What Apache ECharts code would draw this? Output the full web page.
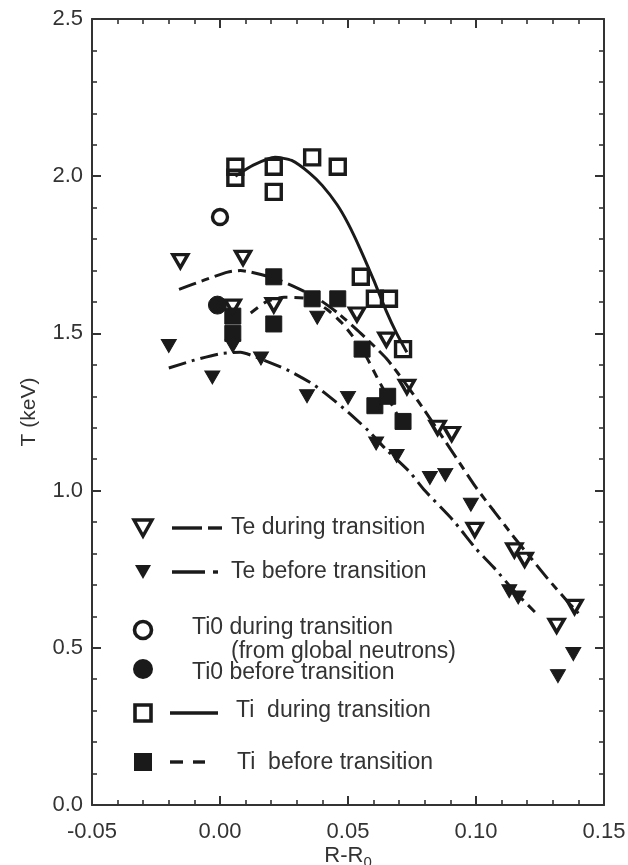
<!DOCTYPE html>
<html>
<head>
<meta charset="utf-8">
<script src="https://cdn.jsdelivr.net/npm/echarts@6/dist/echarts.min.js"></script>
<style>
  html, body { margin: 0; padding: 0; background: #fff; }
  #chart { width: 628px; height: 865px; }
</style>
</head>
<body>
<div id="chart"></div>
<script>
// Temperature profiles versus major-radius offset R-R0, [R-R0, T (keV)]

// Te during transition (open down-triangles) and its fit
const teDuring = [
  [-0.0155, 1.73], [0.005, 1.585], [0.009, 1.74], [0.021, 1.59], [0.0535, 1.56],
  [0.065, 1.48], [0.073, 1.33], [0.085, 1.20], [0.0905, 1.18], [0.0995, 0.875],
  [0.115, 0.81], [0.119, 0.78], [0.1385, 0.63], [0.1315, 0.57]
];
const teDuringFit = [
  [-0.016, 1.64], [-0.006, 1.67], [0.003, 1.695], [0.008, 1.70], [0.012, 1.695],
  [0.021, 1.676], [0.03, 1.645], [0.038, 1.612], [0.046, 1.565], [0.055, 1.50],
  [0.065, 1.42], [0.073, 1.335], [0.082, 1.23], [0.091, 1.12], [0.1, 1.01],
  [0.107, 0.935], [0.115, 0.85], [0.122, 0.78], [0.128, 0.72], [0.136, 0.645],
  [0.14, 0.61]
];

// Te before transition (filled down-triangles) and its fit
const teBefore = [
  [-0.02, 1.46], [-0.003, 1.36], [0.005, 1.46], [0.016, 1.42], [0.034, 1.30],
  [0.038, 1.55], [0.05, 1.295], [0.061, 1.15], [0.069, 1.11], [0.082, 1.04],
  [0.088, 1.05], [0.098, 0.955], [0.113, 0.68], [0.1165, 0.66], [0.138, 0.48],
  [0.132, 0.41]
];
const teBeforeFit = [
  [-0.02, 1.39], [-0.01, 1.415], [0.0, 1.435], [0.008, 1.44], [0.014, 1.425],
  [0.026, 1.385], [0.036, 1.34], [0.041, 1.31], [0.05, 1.25], [0.058, 1.19],
  [0.065, 1.13], [0.074, 1.06], [0.08, 1.0], [0.091, 0.906], [0.1, 0.815],
  [0.107, 0.755], [0.115, 0.68], [0.123, 0.614]
];

// Ti during transition (open squares) and its fit
const tiDuring = [
  [0.006, 2.03], [0.006, 1.995], [0.021, 2.03], [0.021, 1.95], [0.036, 2.06],
  [0.046, 2.03], [0.055, 1.68], [0.0605, 1.61], [0.066, 1.61], [0.0715, 1.45]
];
const tiDuringFit = [
  [0.006, 2.0], [0.013, 2.035], [0.0215, 2.06], [0.028, 2.05], [0.035, 2.01],
  [0.04, 1.97], [0.0457, 1.91], [0.05, 1.85], [0.0547, 1.77], [0.06, 1.67],
  [0.065, 1.57], [0.069, 1.50], [0.073, 1.44]
];

// Ti before transition (filled squares) and its fit
const tiBefore = [
  [0.005, 1.555], [0.005, 1.50], [0.021, 1.68], [0.021, 1.53], [0.036, 1.61],
  [0.046, 1.61], [0.0555, 1.45], [0.0605, 1.27], [0.0655, 1.30], [0.0715, 1.22]
];
const tiBeforeFit = [
  [0.012, 1.565], [0.018, 1.60], [0.025, 1.615], [0.035, 1.61], [0.042, 1.575],
  [0.048, 1.53], [0.0555, 1.45], [0.062, 1.35], [0.07, 1.23]
];

// Central Ti from global neutrons
const ti0During = [[0.0, 1.87]];
const ti0Before = [[-0.001, 1.59]];

// Axis tick labels
const xTickLabels = ['-0.05', '0.00', '0.05', '0.10', '0.15'];
const yTickLabels = ['0.0', '0.5', '1.0', '1.5', '2.0', '2.5'];

// Legend texts
const legendTexts = [
  'Te during transition',
  'Te before transition',
  'Ti0 during transition',
  '(from global neutrons)',
  'Ti0 before transition',
  'Ti  during transition',
  'Ti  before transition'
];

const INK = '#1a1a1a';
const TEXT = '#333333';
const FONT = '"Liberation Sans", Arial, sans-serif';

const chart = echarts.init(document.getElementById('chart'), null, { renderer: 'canvas' });

function frameAxis(common, extra) {
  return Object.assign({
    type: 'value',
    splitLine: { show: false },
    axisLine: { show: true, onZero: false, lineStyle: { color: '#333', width: 2 } },
    axisTick: { show: true, inside: true, length: 9, lineStyle: { color: '#333', width: 2 } },
    minorTick: { show: true, splitNumber: 5, length: 5, lineStyle: { color: '#333', width: 1.6 } },
    axisLabel: { show: false }
  }, common, extra);
}

const xCommon = { min: -0.05, max: 0.15, interval: 0.05 };
const yCommon = { min: 0, max: 2.5, interval: 0.5 };
const labelStyle = { fontSize: 22, color: TEXT, fontFamily: FONT };

function fitLine(data, type) {
  return {
    type: 'line', data: data, showSymbol: false, symbol: 'none',
    smooth: 0.2, z: 2, silent: true,
    lineStyle: { color: INK, width: 3, type: type, cap: 'butt', opacity: 1 }
  };
}

function markers(data, symbol, size, filled, rotate) {
  return {
    type: 'scatter', data: data, symbol: symbol, symbolSize: size,
    symbolRotate: rotate || 0, z: 3, silent: true,
    itemStyle: filled
      ? { color: INK, borderColor: INK, borderWidth: 1, opacity: 1 }
      : { color: 'rgba(255,255,255,0)', borderColor: INK, borderWidth: 3.4, opacity: 1 }
  };
}

// Legend built from graphic primitives
const LX = 143;
const legendGraphics = [];
function legendTri(cy, filled) {
  const w = filled ? 8 : 9, h = filled ? 7 : 8;
  legendGraphics.push({
    type: 'polygon',
    shape: { points: [[LX - w, cy - h], [LX + w, cy - h], [LX, cy + h]] },
    style: filled ? { fill: INK } : { fill: 'none', stroke: INK, lineWidth: 3.4 }
  });
}
function legendSeg(y, x1, x2) {
  legendGraphics.push({
    type: 'line', shape: { x1: x1, y1: y, x2: x2, y2: y },
    style: { stroke: INK, lineWidth: 3.4 }
  });
}
function legendText(x, y, t) {
  legendGraphics.push({
    type: 'text', x: x, y: y,
    style: { text: t, fill: TEXT, font: '23px ' + FONT, textVerticalAlign: 'middle', textAlign: 'left' }
  });
}

legendTri(528, false);
legendSeg(528, 172, 202); legendSeg(528, 208, 222);
legendText(231, 528, legendTexts[0]);

legendTri(572, true);
legendSeg(572, 172, 205); legendSeg(572, 213, 218);
legendText(231, 572, legendTexts[1]);

legendGraphics.push({ type: 'circle', shape: { cx: LX, cy: 630, r: 8.5 }, style: { fill: 'none', stroke: INK, lineWidth: 3.6 } });
legendText(192, 628, legendTexts[2]);
legendText(231, 652, legendTexts[3]);

legendGraphics.push({ type: 'circle', shape: { cx: LX, cy: 669, r: 10 }, style: { fill: INK } });
legendText(192, 673, legendTexts[4]);

legendGraphics.push({ type: 'rect', shape: { x: LX - 8, y: 713 - 8, width: 16, height: 16 }, style: { fill: 'none', stroke: INK, lineWidth: 3.6 } });
legendSeg(713, 170, 218);
legendText(236, 711, legendTexts[5]);

legendGraphics.push({ type: 'rect', shape: { x: LX - 9, y: 762 - 9, width: 18, height: 18 }, style: { fill: INK } });
legendSeg(762, 170, 183); legendSeg(762, 193, 205);
legendText(237, 763, legendTexts[6]);

const option = {
  backgroundColor: '#fff',
  animation: false,
  textStyle: { fontFamily: FONT },
  grid: { left: 92, right: 24, top: 19, bottom: 60, containLabel: false, outerBoundsMode: 'none' },
  xAxis: [
    frameAxis(xCommon, {
      position: 'bottom',
      axisLabel: Object.assign({ show: true, margin: 16, formatter: (v, i) => xTickLabels[i] }, labelStyle),
      name: '{a|R-R}{b|0}',
      nameLocation: 'middle',
      nameGap: 36,
      nameMoveOverlap: false,
      nameTextStyle: {
        rich: {
          a: { fontSize: 22, color: TEXT, fontFamily: FONT },
          b: { fontSize: 15, color: TEXT, fontFamily: FONT, padding: [14, 0, 0, 0] }
        }
      }
    }),
    frameAxis(xCommon, { position: 'top' })
  ],
  yAxis: [
    frameAxis(yCommon, {
      position: 'left',
      axisLabel: Object.assign({ show: true, margin: 9, formatter: (v, i) => yTickLabels[i] }, labelStyle),
      name: 'T (keV)',
      nameLocation: 'middle',
      nameGap: 52,
      nameMoveOverlap: false,
      nameTextStyle: { fontSize: 21, color: TEXT, fontFamily: FONT }
    }),
    frameAxis(yCommon, { position: 'right' })
  ],
  graphic: legendGraphics,
  series: [
    fitLine(tiDuringFit, 'solid'),
    fitLine(teDuringFit, [18, 6, 8, 6]),
    fitLine(teBeforeFit, [18, 6, 3, 6]),
    fitLine(tiBeforeFit, [9, 7]),
    markers(tiBefore, 'rect', 16, true),
    markers(tiDuring, 'rect', 15, false),
    markers(teBefore, 'triangle', [15, 13], true, 180),
    markers(teDuring, 'triangle', [15, 13], false, 180),
    markers(ti0Before, 'circle', 18, true),
    markers(ti0During, 'circle', 15, false)
  ]
};

chart.setOption(option);
</script>
</body>
</html>
